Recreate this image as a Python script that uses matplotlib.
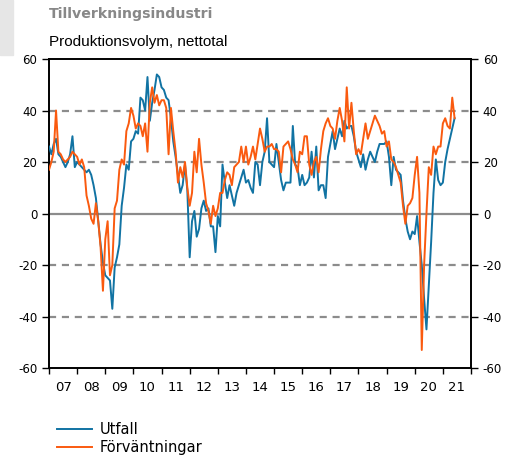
import numpy as np
import matplotlib
matplotlib.use("Agg")
import matplotlib.pyplot as plt
from matplotlib.patches import Rectangle

# monthly values, Jan 2007 .. Jun 2021
utfall = [
    26, 23, 27, 29, 23, 22, 20, 18, 20, 23, 30, 18,      # 2007
    20, 19, 18, 17, 16, 17, 15, 11, 6, -3, -12, -19,     # 2008
    -24, -25, -26, -37, -21, -17, -12, 3, 10, 19, 17, 28,  # 2009
    29, 32, 31, 45, 44, 40, 53, 36, 43, 48, 54, 53,      # 2010
    49, 48, 45, 44, 37, 28, 22, 15, 8, 11, 19, 9,        # 2011
    -17, -3, 1, -9, -6, 2, 5, 1, 2, -5, -5, -15,         # 2012
    -1, -5, 19, 12, 6, 11, 7, 3, 8, 11, 14, 17,          # 2013
    12, 13, 10, 8, 20, 19, 11, 20, 24, 37, 20, 19,       # 2014
    18, 27, 20, 13, 9, 12, 12, 12, 34, 19, 18, 11,       # 2015
    15, 11, 12, 14, 24, 14, 26, 9, 11, 11, 6, 22,        # 2016
    27, 32, 25, 29, 33, 30, 36, 33, 34, 34, 30, 24,      # 2017
    21, 18, 23, 17, 21, 24, 22, 20, 24, 27, 27, 27,      # 2018
    28, 22, 11, 22, 17, 16, 15, 5, -2, -7, -10, -7,      # 2019
    -8, -1, -11, -20, -33, -45, -28, -11, 8, 21, 13, 11,  # 2020
    12, 20, 25, 29, 33, 37,                              # 2021
]
forvantningar = [
    17, 20, 24, 40, 24, 23, 21, 20, 21, 22, 24, 23,      # 2007
    22, 19, 21, 18, 7, 3, -2, -4, 4, -3, -13, -30,       # 2008
    -10, -3, -24, -20, 2, 5, 17, 21, 19, 32, 35, 41,     # 2009
    38, 33, 35, 34, 30, 35, 24, 43, 49, 43, 46, 42,      # 2010
    44, 44, 41, 23, 41, 32, 24, 12, 18, 14, 20, 10,      # 2011
    3, 8, 24, 16, 29, 19, 12, 4, 1, -4, 3, -1,           # 2012
    2, 8, 8, 13, 16, 15, 11, 18, 19, 20, 26, 20,         # 2013
    26, 19, 22, 26, 21, 27, 33, 29, 24, 26, 26, 27,      # 2014
    25, 25, 24, 16, 26, 27, 28, 25, 21, 19, 16, 24,      # 2015
    23, 30, 30, 19, 15, 20, 22, 16, 25, 32, 35, 37,      # 2016
    34, 33, 29, 36, 41, 36, 28, 49, 33, 43, 32, 23,      # 2017
    25, 23, 29, 35, 29, 32, 35, 38, 36, 34, 31, 32,      # 2018
    26, 28, 21, 20, 18, 15, 12, 3, -4, 3, 4, 6,          # 2019
    15, 22, 8, -53, -20, 0, 18, 15, 26, 23, 26, 26,      # 2020
    35, 37, 34, 33, 45, 37,                              # 2021
]
years = list(range(2007, 2022))
year_labels = [f"{y % 100:02d}" for y in years]
yticks = [-60, -40, -20, 0, 20, 40, 60]

blue = "#1173a3"
orange = "#fa5a0f"
grey = "#8c8c8c"

x = 2007 + np.arange(len(utfall)) / 12

fig = plt.figure(figsize=(5.22, 4.57), dpi=100)
ax = fig.add_axes([0.0939, 0.1947, 0.8084, 0.6762])

for v in [-40, -20, 20, 40]:
    ax.axhline(v, color=grey, lw=1.6, ls=(0, (3.2, 2.6)), zorder=1)
ax.axhline(0, color=grey, lw=1.6, zorder=1)

ax.plot(x, utfall, color=blue, lw=1.4, label="Utfall", zorder=3)
ax.plot(x, forvantningar, color=orange, lw=1.4, label="Förväntningar", zorder=4)

ax.set_xlim(2007, 2022)
ax.set_ylim(-60, 60)
ax.set_xticks(range(2007, 2023))
ax.set_xticklabels([])
ax.set_xticks([y + 0.5 for y in years], minor=True)
ax.set_xticklabels(year_labels, minor=True, fontsize=9.5)
ax.tick_params(axis="x", which="major", direction="out", length=4, width=1)
ax.tick_params(axis="x", which="minor", length=0, pad=9)

ax.set_yticks(yticks)
ax.set_yticklabels([str(v) for v in yticks])
ax.tick_params(axis="y", direction="out", length=5, width=1, labelsize=8.5,
               left=True, right=True, labelleft=True, labelright=True)

for s in ax.spines.values():
    s.set_linewidth(1.4)
    s.set_color("black")

fig.text(49 / 522, 1 - 14 / 457, "Tillverkningsindustri", fontsize=10.2,
         fontweight="bold", color="#888888", va="center", ha="left")
fig.text(49 / 522, 1 - 42 / 457, "Produktionsvolym, nettotal", fontsize=11,
         family="Liberation Sans", color="black", va="center", ha="left")

fig.legend(loc="upper left", bbox_to_anchor=(51 / 522, 1 - 416 / 457),
           frameon=False, fontsize=10.5, handlelength=2.4, handletextpad=0.55,
           labelspacing=0.25, borderaxespad=0)

fig.patches.append(Rectangle((0, 1 - 55 / 457), 13 / 522, 55 / 457,
                             transform=fig.transFigure, color="#e6e6e6", zorder=0))

fig.savefig("out.png", dpi=100)
